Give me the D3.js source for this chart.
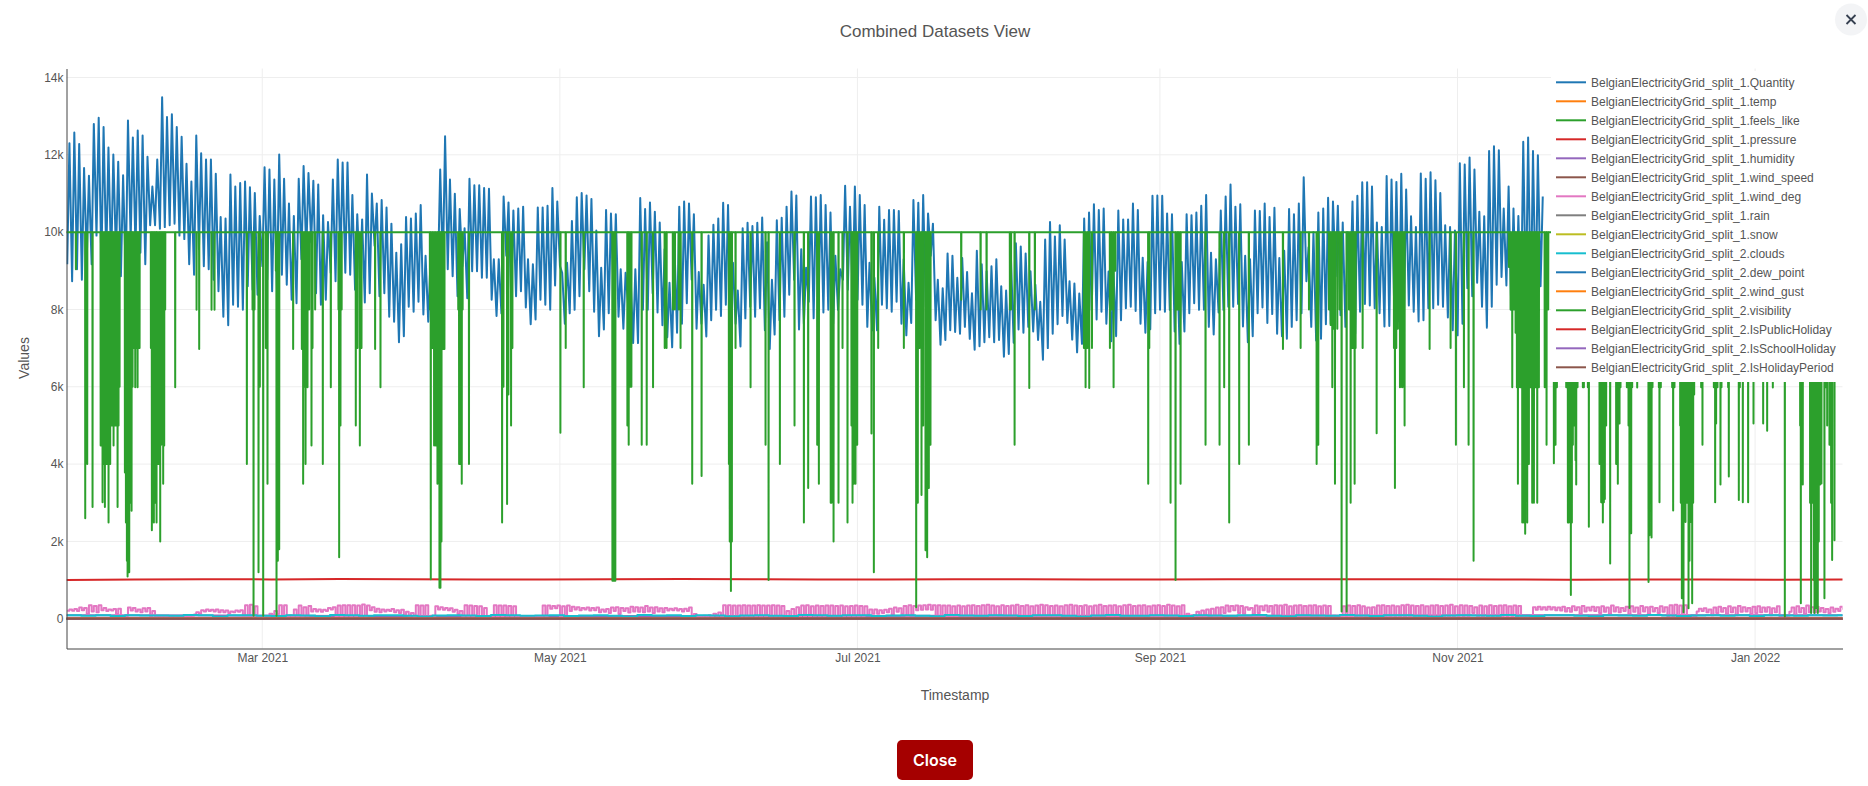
<!DOCTYPE html>
<html>
<head>
<meta charset="utf-8">
<title>Combined Datasets View</title>
<script src="https://cdn.jsdelivr.net/npm/d3@7"></script>
<style>
    html, body { margin: 0; padding: 0; background: #fff; overflow: hidden; }
    svg { display: block; font-family: "Liberation Sans", Arial, sans-serif; }
</style>
</head>
<body>
<div id="chart"></div>
<script>
// values, index = days since the left edge of the plot
const quantity_high = [
    12300,12580,12280,11660,11460,12800,12960,12720,12190,12010,11820,11470,12890,12450,12630,12500,11950,11180,11880,13490,
    12980,13050,12720,12470,11770,11310,12500,12040,11880,11880,11510,10390,10350,11490,11180,11270,11310,11160,11010,10420,
    11680,11620,11360,12010,11380,10740,10420,11380,11710,11530,11330,11230,10440,10260,11360,11880,11800,11800,10960,10460,
    10330,11490,
    11000,10740,10830,10640,10220,9470,9690,10390,10350,10480,10700,9390,9230,8950,11620,12480,11360,10990,10600,10100,
    11380,11210,11210,11140,11120,9300,9300,10920,10770,10560,10610,10660,9300,9170,10640,10640,10680,11140,10790,8950,
    9210,10290,10900,11010,10950,10860,10040,9080,10570,10480,10460,9040,8950,8950,9040,10880,10600,10770,10530,10250,
    9560,
    8690,9740,10660,10790,10740,10460,8970,8640,9910,10190,10350,10760,10700,9210,8490,10100,10240,10160,10240,10380,
    9740,8770,10310,10370,10660,11050,10950,9560,9080,10920,10900,10960,10700,10510,9390,9040,11200,10660,11180,10960,
    10700,9210,8820,10660,10320,10570,10570,10550,9300,8690,10830,10760,10960,10480,10220,8770,8550,9450,9390,8820,9330,
    8970,8420,9520,9170,8990,9120,9300,8600,8490,9300,9710,9630,9450,8990,8640,8200,9810,10260,9890,10180,
    9810,8730,8670,8410,10350,10510,10720,10570,10610,8980,8990,10560,10330,10330,10740,10570,9340,9230,10940,10950,
    10940,10480,10460,9470,9230,10460,10440,10510,10680,10960,9470,9300,10560,10920,11230,10660,10720,9390,9300,10560,
    10550,10740,
    10390,10630,9330,9520,10600,10460,10740,11420,9610,10000,10510,10610,10890,10790,10680,10250,10000,10790,10940,11290,
    11290,11180,10250,10130,11450,11360,11300,11510,11100,10410,10130,11520,11380,11550,11340,11010,10180,10130,10040,11780,
    11750,11930,11620,10530,10410,12100,12220,12120,10610,11180,10610,10420,12340,12450,12100,11990,10920
]
const quantity_low = [
    9170,8730,9040,8770,9300,9170,9910,9120,9340,9120,9390,8860,8900,9800,9560,9470,9170,10180,10180,10090,
    10130,10180,10220,9910,9820,9170,8900,9560,9120,9040,8770,8470,7810,7590,8120,8070,7990,8600,8510,8380,
    9120,8770,8470,8510,8900,8640,8250,8160,9300,9470,9740,8420,8120,8250,8950,8730,9300,8950,8900,8510,
    8770,8180,
    8420,9650,8340,8420,7810,7680,7150,7310,8070,7940,8200,7870,7680,7500,8950,9040,9040,8860,8340,9120,
    8290,8990,8990,8820,8820,8250,7830,7900,9390,8340,8340,8470,8050,7620,7740,8250,8120,7990,8620,9120,
    7630,7900,7990,8340,9040,8470,7940,7310,7480,7900,8420,7810,7500,8070,7130,7130,7990,7990,8420,7920,
    7590,
    7280,7020,7400,7630,8160,8770,7500,7630,7300,7720,7990,7830,8120,7460,7630,7040,7770,8070,7810,8030,
    7460,6980,7350,7720,7810,8380,8770,7480,7630,8200,7770,7990,7920,7990,7630,7990,8770,8510,8340,8250,
    8120,7550,7460,7460,8120,8030,7940,8200,7630,7330,7650,8250,7720,8070,9390,7720,7090,7210,7460,7420,7370,
    7550,7240,6960,7050,7150,7280,7150,7210,6780,6850,7140,7480,7400,7550,7430,7210,6700,7000,7370,7620,
    7830,7650,7220,6890,7110,7630,7990,7740,7940,7630,7180,7310,7720,8030,8070,7960,7630,7400,7490,7900,
    7990,7940,7990,7430,7110,7430,7900,8160,7990,7990,7550,7350,7920,7990,8070,8070,8140,7560,7150,7310,
    7900,8050,
    7650,7880,7370,7310,7240,7550,7720,7900,8730,7550,7200,7240,7620,7630,8860,7850,7550,8510,7370,7940,
    8140,8100,8030,7900,7560,7570,8070,7680,7900,8100,7940,7690,7720,8030,8030,8120,8070,7790,7460,7330,
    7630,8550,8340,8690,8070,7530,8070,8640,8840,8620,7990,7990,7990,8070,7990,8160,8600
]

// [day, value]: hours where the visibility drops away from its 10000 ceiling
const visibility_dips = [
    [1.93,9040],[3.84,2600],[4.25,4000],[5.34,2890],[7.0,4480],[7.19,4480],[7.39,3010],[7.67,4000],[7.87,2890],[8.08,4000],
    [8.28,4000],[8.49,4000],[8.62,2490],[8.76,4000],[8.96,4000],[9.17,5000],[9.37,5000],[9.65,4480],[9.92,5000],[10.12,5000],
    [10.47,2890],[10.67,5000],[10.88,6000],[11.97,3780],[12.18,2490],[12.38,1500],[12.52,1090],[12.72,1500],[12.86,1200],[13.06,3000],
    [13.34,2790],[13.54,6000],[13.81,7000],[14.09,5990],[14.36,7000],[14.57,5990],[14.77,7000],[14.98,7000],[17.3,7000],[17.5,2290],
    [17.7,2700],[17.91,2490],[18.1,3000],[18.32,4000],[18.46,2490],[18.73,4000],[19.0,4000],[19.21,2000],[19.41,4500],[19.62,5000],
    [19.82,3490],[20.03,4480],[20.23,8000],[22.28,5990],[26.66,7990],[27.2,6980],[29.73,7990],[30.34,7990],[36.97,4000],[38.13,8000],
    [38.34,75],[38.54,8000],[39.36,1200],[39.63,6000],[40.32,75],[40.87,7000],[41.2,3490],[42.91,9000],[43.05,75],[43.32,1500],
    [43.6,1800],[46.46,6980],[48.24,6980],[48.51,3490],[48.79,6000],[49.0,4000],[49.4,5990],[49.74,8000],[50.22,4480],[50.43,7000],
    [50.97,8000],[52.54,4000],[54.18,5990],[55.75,8000],[55.89,1590],[56.16,5000],[56.4,8000],[59.3,5000],[59.64,7000],[60.13,4480],
    [60.47,7000],
    [63.26,6980],[64.36,5990],[74.5,8000],[74.67,1020],[75.0,7000],[75.35,4480],[75.69,4480],[76.04,3490],[76.24,5000],[76.45,800],
    [76.65,800],[76.86,2000],[77.06,6980],[77.27,6980],[77.47,6980],[80.3,8000],[80.48,4000],[80.7,4000],[81.02,3490],[81.2,8000],
    [82.5,4000],[89.29,2490],[89.56,6000],[90.31,2970],[90.58,5800],[91.13,5000],[91.4,7000],[101.24,4810],[102.33,7000],[106.02,5990],
    [111.9,980],[112.0,980],[112.17,980],[112.3,980],[112.5,980],[114.97,5000],[115.24,4500],[115.52,6000],[115.79,6000],[117.91,4500],
    [118.93,4500],[120.23,5990],[122.62,7000],
    [123.0,7000],[124.3,8000],[124.7,8000],[125.5,8000],[125.87,7000],[128.26,3490],[130.18,3690],[135.78,4000],[135.95,2000],[136.19,720],
    [136.39,2000],[137.14,7000],[140.22,5990],[143.29,4500],[143.91,1000],[146.23,4000],[149.23,5000],[151.15,2490],[152.03,3380],[153.88,4500],
    [154.22,3490],[156.65,3000],[156.82,3000],[157.23,2000],[158.25,3000],[159.07,7000],[160.09,2490],[160.9,5000],[161.12,3000],[161.25,5000],
    [161.39,3490],[161.55,5000],[161.73,3490],[161.9,5000],[162.08,4500],[165.0,4790],[165.49,1200],[166.38,7000],[171.64,7000],[174.17,300],
    [174.5,3000],[174.85,7000],[175.26,3200],[175.6,5000],[176.08,1770],[176.42,1590],[176.76,3380],[177.1,4500],[183.4,8250],
    [187.37,8000],[188.6,8000],[193.38,8000],[193.6,8000],[194.34,4500],[197.35,5970],[198.5,8000],[208.55,7000],[208.89,5990],[209.25,7000],
    [209.64,5970],[210.2,7000],[213.88,7000],[214.2,8000],[214.63,5990],[214.99,9000],[221.73,3490],[221.95,7000],[226.31,3000],[227.33,1000],
    [227.7,8000],[228.0,8000],[228.36,3490],[233.48,4500],[236.35,4500],[237.3,5990],[238.33,2490],[240.38,4000],[242.36,4500],
    [249.35,6980],[252.97,7000],[254.68,8000],[256.25,4000],[256.59,4500],[258.78,8000],[259.12,7600],[259.46,5990],[259.75,7500],[260.01,3490],
    [260.49,7500],[260.96,8000],[261.37,190],[262.4,190],[262.88,8000],[263.22,3000],[263.56,7000],[263.83,7000],[264.04,3490],[264.24,7000],
    [265.68,7000],[268.55,4800],[272.1,7000],[272.3,3380],[272.58,7000],[272.9,7500],[273.33,5990],[273.6,6000],[273.8,5990],[274.0,6000],
    [274.28,5000],[279.41,6980],[283.71,7000],[284.8,4500],[286.44,5990],[287.4,4500],[288.42,1500],[295.66,9100],[296.0,8000],[296.35,5990],
    [296.69,8000],[297.03,7400],[297.3,5990],[297.51,3490],[297.7,5990],[298.05,5990],[298.4,2490],[298.74,2490],[299.0,2200],[299.42,2490],
    [299.76,4000],[300.1,5990],[300.44,3000],[300.79,3000],[301.13,5990],[301.47,3000],[301.81,5990],[303.0,5990],[303.38,4500],[303.72,8000],
    [304.88,4020],[305.22,4500],[305.5,5990],[307.41,5990],[307.75,2490],[307.95,2490],[308.16,3000],[308.36,613],[308.57,2490],[308.77,4500],
    [309.05,5000],[309.32,4100],[309.46,3470],[309.73,5990],[310.82,5990],[311.03,5990],[311.85,5990],[312.05,2380],[314.24,4000],[314.44,4000],
    [314.58,3010],[314.78,3000],[314.92,2490],[315.13,3010],[315.33,3100],[315.6,5000],[316.42,1430],[317.65,4000],[317.99,3490],[318.34,5050],
    [318.54,5990],[319.84,5990],[320.18,5000],[320.38,280],[320.73,2210],[320.93,5990],[321.96,5980],[324.28,950],[324.48,2160],[324.69,5000],
    [324.9,2100],[325.1,5990],[326.4,5990],[326.53,3010],[326.8,5990],[329.13,5990],[329.33,2800],[329.6,5990],[330.77,5000],[330.9,3000],
    [331.11,530],[331.31,1500],[331.45,170],[331.66,3000],[331.86,2500],[332.13,3000],[332.48,270],[332.68,1500],[332.82,4020],[333.02,2500],
    [333.23,400],[333.43,3000],[333.64,5800],[335.07,5990],[335.34,4500],[337.67,5990],[337.94,3010],[338.14,5050],[338.42,5990],[339.03,3470],
    [339.24,5990],[340.6,5990],[340.74,3680],[342.79,3070],[343.0,5990],[343.61,3010],[344.7,3010],[345.8,5050],[347.78,5050],[348.6,4860],
    [349.76,5980],[352.22,50],[355.36,5000],[355.5,400],[355.9,3470],[357.4,3000],[357.61,150],[357.82,3000],[357.95,5050],[358.16,1000],
    [358.3,150],[358.5,1000],[358.64,280],[358.84,1500],[358.98,150],[359.18,2000],[359.46,3470],[359.73,3500],[360.34,530],[360.55,5990],
    [360.9,5000],[361.37,4500],[361.71,3000],[361.92,1520],[362.4,2030]
]

const wind_deg_high = [
    240,250,290,280,350,330,350,280,240,250,260,60,290,280,240,270,280,200,70,60,
    60,70,60,80,70,80,170,220,240,230,240,220,210,190,210,220,350,360,320,80,
    80,130,200,350,350,90,240,340,300,330,250,240,230,280,300,340,350,350,350,340,
    370,340,300,260,240,230,250,220,230,180,150,350,340,350,80,320,300,280,270,230,
    200,350,340,330,320,280,80,350,340,340,330,320,70,50,60,70,60,340,340,330,
    340,320,340,310,300,280,290,280,290,240,250,290,300,280,270,310,300,290,330,290,
    300,270,280,260,270,250,260,290,120,70,80,90,130,160,350,350,340,340,350,340,
    340,350,340,340,350,340,330,200,250,300,340,350,320,340,330,340,340,330,340,320,
    330,340,330,320,240,240,220,230,260,290,270,330,350,330,340,350,360,350,350,340,
    340,320,340,320,340,350,330,350,360,340,320,350,330,340,360,330,350,320,340,360,
    350,330,340,320,350,360,340,330,350,320,340,360,330,340,350,320,350,360,330,340,
    350,320,340,350,330,360,340,320,350,130,90,180,210,240,260,290,300,340,330,340,
    330,300,280,340,320,340,330,350,340,360,320,340,350,330,340,350,320,340,330,80,
    60,320,340,330,350,320,290,300,340,350,330,340,320,350,360,340,330,350,320,340,
    350,330,340,360,320,350,340,330,300,340,320,350,330,340,350,320,340,330,80,70,
    300,310,300,310,300,290,310,280,320,300,330,290,310,300,320,290,340,300,280,310,
    320,290,330,300,310,280,320,300,350,360,340,350,80,70,260,270,240,290,310,280,
    320,290,330,300,280,310,320,290,300,270,320,90,80,290,320,280,340,300,310,280,
    250,290,260,310,330,340
]
const wind_deg_low = [
    205,205,200,220,120,190,170,220,200,210,120,30,70,210,190,170,190,50,40,40,
    40,30,30,40,30,30,110,130,190,200,190,170,170,150,170,180,80,80,60,40,
    30,50,90,120,70,30,60,50,50,80,190,190,180,200,240,60,50,50,50,60,
    60,60,220,180,170,190,200,170,150,100,80,40,40,40,40,60,240,230,220,180,
    120,50,50,50,40,50,40,40,40,50,40,50,30,30,30,30,30,40,50,260,
    270,60,60,200,240,220,240,210,220,170,180,150,200,120,200,160,190,180,170,190,
    150,190,170,210,220,210,190,200,50,40,30,40,60,80,50,50,40,50,40,40,
    50,50,40,50,40,50,60,60,70,50,40,40,50,40,40,50,40,50,60,50,
    60,60,50,60,100,130,130,150,170,100,180,130,60,100,220,230,240,230,60,50,
    40,50,60,60,50,60,40,50,70,40,60,90,50,40,60,80,40,50,60,40,
    70,50,40,60,80,40,50,70,40,60,50,40,80,60,40,50,70,40,60,50,
    40,70,50,40,60,80,50,40,70,50,40,80,60,50,90,40,60,150,190,220,
    150,130,230,120,150,220,180,110,80,70,80,70,60,50,40,60,70,50,40,60,
    50,40,70,50,60,40,70,80,40,50,60,40,70,50,60,40,80,60,50,40,
    70,50,60,40,50,70,60,40,150,60,50,40,70,60,40,50,60,40,40,30,
    40,230,240,230,240,220,210,190,180,220,130,190,210,200,150,180,120,190,170,200,
    110,180,130,190,120,190,150,180,60,60,80,70,30,30,190,200,170,90,150,180,
    130,170,90,180,190,120,150,170,180,90,170,30,30,180,90,170,120,170,160,190,
    170,150,180,200,250,260
]

// every 3 days
const clouds = [
    90,80,88,70,92,85,85,75,95,90,60,88,92,80,70,90,85,65,94,88,
    75,88,92,80,60,85,90,82,70,95,88,75,85,92,70,86,90,80,60,94,
    85,88,70,92,85,65,85,90,80,70,94,88,75,88,92,70,85,90,80,65,
    95,84,75,90,85,70,88,92,80,60,85,94,80,75,90,85,70,92,85,75,
    88,95,80,65,90,82,75,94,85,70,88,92,80,60,84,90,85,75,95,80,
    70,88,92,75,65,90,85,75,94,85,70,85,92,80,88,70,90,85,75,92,85,90,80
]
// every 14 days
const pressure = [1000,1012,1020,1018,1025,1022,1018,1015,1020,1026,1022,1014,1018,1024,1020,1016,1012,1020,1022,1024,1020,1014,1010,1018,1016,1008,1014,1028]
// every 30.4 days, these all sit on the zero line at this scale
const temp = [3,5,7,9,12,16,18,18,17,12,8,5,4]
const feels_like = [0,2,5,7,11,16,18,18,16,11,6,2,1]
const humidity = [88,82,72,65,70,68,74,76,78,84,90,92,90]
const wind_speed = [5,5,5,4,4,3,3,3,3,4,5,5,5]
const rain = [1,0,0,0,1,0,1,1,0,0,0,1,1]
const snow = [0,0,0,0,0,0,0,0,0,0,0,0,0]
const dew_point = [1,2,2,3,7,10,13,13,13,9,6,3,2]
const wind_gust = [9,9,8,7,7,5,6,5,5,7,9,9,9]
const is_public_holiday = [0,0,0,0,0,0,0,0,0,0,0,0,0]
const is_school_holiday = [0,0,1,0,0,0,1,1,0,0,0,1,0]
const is_holiday_period = [0,0,1,0,0,0,1,1,0,0,0,1,0]

const x_tick_dates = ['2021-03-01', '2021-05-01', '2021-07-01', '2021-09-01', '2021-11-01', '2022-01-01']
const y_ticks = [0, 2000, 4000, 6000, 8000, 10000, 12000, 14000]
const prefix_1 = 'BelgianElectricityGrid_split_1.'
const prefix_2 = 'BelgianElectricityGrid_split_2.'
const legend_names = [
    prefix_1 + 'Quantity', prefix_1 + 'temp', prefix_1 + 'feels_like', prefix_1 + 'pressure',
    prefix_1 + 'humidity', prefix_1 + 'wind_speed', prefix_1 + 'wind_deg', prefix_1 + 'rain',
    prefix_1 + 'snow', prefix_2 + 'clouds', prefix_2 + 'dew_point', prefix_2 + 'wind_gust',
    prefix_2 + 'visibility', prefix_2 + 'IsPublicHoliday', prefix_2 + 'IsSchoolHoliday', prefix_2 + 'IsHolidayPeriod'
]
const palette = ['#1f77b4', '#ff7f0e', '#2ca02c', '#d62728', '#9467bd', '#8c564b', '#e377c2', '#7f7f7f', '#bcbd22', '#17becf',
    '#1f77b4', '#ff7f0e', '#2ca02c', '#d62728', '#9467bd', '#8c564b']


function pair_up(highs, lows) {
    // one trough and one peak per day
    const points = []
    highs.forEach(function (h, i) {
        if (lows[i] !== undefined) points.push([i + 0.15, lows[i]])
        points.push([i + 0.6, h])
    })
    return points
}

function spaced(values, step) {
    return values.map((v, i) => [i * step, v])
}

function dips_to_line(dips) {
    const points = [[-1, 10000]]
    dips.forEach(function (d) {
        points.push([d[0] - 0.03, 10000], d, [d[0] + 0.03, 10000])
    })
    points.push([366, 10000])
    return points
}

function draw_chart() {
    const width = 1868
    const height = 786
    const margins = {'left': 66.5, 'right': 25.5, 'top': 68.5, 'bottom': 137.5}
    const svg = d3.select('#chart').append('svg').attr('width', width).attr('height', height)

    const start = new Date(Date.UTC(2021, 0, 19, 21))
    const end = new Date(Date.UTC(2022, 0, 18, 22))
    const x = d3.scaleUtc().domain([start, end]).range([margins.left, width - margins.right])
    const y = d3.scaleLinear().domain([-770, 14233]).range([height - margins.bottom, margins.top])
    const to_date = (day) => new Date(start.getTime() + day * 86400000)
    const x_ticks = x_tick_dates.map((d) => new Date(d + 'T00:00:00Z'))

    // grid first
    svg.append('g').selectAll('line').data(y_ticks).join('line')
        .attr('x1', margins.left).attr('x2', width - margins.right)
        .attr('y1', (d) => y(d)).attr('y2', (d) => y(d))
        .attr('stroke', '#eee')
    svg.append('g').selectAll('line').data(x_ticks).join('line')
        .attr('x1', (d) => x(d)).attr('x2', (d) => x(d))
        .attr('y1', margins.top).attr('y2', height - margins.bottom)
        .attr('stroke', '#eee')

    const series = [
        pair_up(quantity_high, quantity_low), spaced(temp, 30.4), spaced(feels_like, 30.4), spaced(pressure, 14),
        spaced(humidity, 30.4), spaced(wind_speed, 30.4), pair_up(wind_deg_high, wind_deg_low), spaced(rain, 30.4),
        spaced(snow, 30.4), spaced(clouds, 3), spaced(dew_point, 30.4), spaced(wind_gust, 30.4),
        dips_to_line(visibility_dips), spaced(is_public_holiday, 30.4), spaced(is_school_holiday, 30.4), spaced(is_holiday_period, 30.4)
    ]

    svg.append('clipPath').attr('id', 'plot-clip').append('rect')
        .attr('x', margins.left).attr('y', margins.top)
        .attr('width', width - margins.left - margins.right)
        .attr('height', height - margins.top - margins.bottom)

    // wind direction jumps about hour by hour, so it reads as blocks and not as a zigzag
    const line = d3.line().x((d) => x(to_date(d[0]))).y((d) => y(d[1]))
    const step_line = d3.line().curve(d3.curveStepAfter).x((d) => x(to_date(d[0]))).y((d) => y(d[1]))
    svg.append('g').attr('clip-path', 'url(#plot-clip)')
        .selectAll('path').data(series).join('path')
        .attr('d', (d, i) => (i === 6 || i === 9) ? step_line(d) : line(d))
        .attr('fill', 'none')
        .attr('stroke', (d, i) => palette[i])
        .attr('stroke-width', 2)
        .attr('stroke-linejoin', 'round')

    // axes
    const x_axis = svg.append('g')
        .attr('transform', 'translate(0,' + (height - margins.bottom) + ')')
        .call(d3.axisBottom(x).tickValues(x_ticks).tickFormat(d3.utcFormat('%b %Y')).tickSize(0).tickPadding(5))
    const y_axis = svg.append('g')
        .attr('transform', 'translate(' + margins.left + ',0)')
        .call(d3.axisLeft(y).tickValues(y_ticks).tickSize(0).tickPadding(3)
            .tickFormat((d) => d === 0 ? '0' : (d / 1000) + 'k'))
    for (const axis of [x_axis, y_axis]) {
        axis.select('.domain').attr('stroke', '#444').attr('stroke-width', 1)
        axis.selectAll('text').attr('fill', '#555').attr('font-size', 12)
            .attr('font-family', '"Liberation Sans", Arial, sans-serif')
    }

    // legend sits on a white box over the lines
    const legend = svg.append('g')
    legend.append('rect').attr('x', 1551).attr('y', 71).attr('width', 292).attr('height', 311).attr('fill', '#fff')
    const row = legend.selectAll('g').data(legend_names).join('g')
        .attr('transform', (d, i) => 'translate(1556,' + (82.3 + i * 19) + ')')
    row.append('line').attr('x1', 0).attr('x2', 30).attr('stroke', (d, i) => palette[i]).attr('stroke-width', 2)
    row.append('text').attr('x', 35).attr('dy', '0.35em').attr('font-size', 12).attr('fill', '#555').text((d) => d)

    // titles
    svg.append('text').attr('x', 935).attr('y', 31).attr('dy', '0.35em').attr('text-anchor', 'middle')
        .attr('font-size', 17).attr('fill', '#555').text('Combined Datasets View')
    svg.append('text').attr('x', 955).attr('y', 695).attr('dy', '0.35em').attr('text-anchor', 'middle')
        .attr('font-size', 14).attr('fill', '#555').text('Timestamp')
    svg.append('text').attr('transform', 'translate(24,358) rotate(-90)').attr('dy', '0.35em').attr('text-anchor', 'middle')
        .attr('font-size', 14).attr('fill', '#555').text('Values')

    // close buttons of the dialog
    svg.append('circle').attr('cx', 1851).attr('cy', 19.5).attr('r', 16).attr('fill', '#f3f4f6')
    svg.append('path').attr('d', 'M1846.5 15 L1855.5 24 M1855.5 15 L1846.5 24')
        .attr('stroke', '#374151').attr('stroke-width', 1.8).attr('fill', 'none')
    svg.append('rect').attr('x', 897).attr('y', 740).attr('width', 76).attr('height', 40).attr('rx', 5).attr('fill', '#a50000')
    svg.append('text').attr('x', 935).attr('y', 760).attr('dy', '0.35em').attr('text-anchor', 'middle')
        .attr('font-family', 'Inter, sans-serif').attr('font-weight', 600)
        .attr('font-size', 16).attr('fill', '#fff').text('Close')
}

draw_chart()
</script>
</body>
</html>
